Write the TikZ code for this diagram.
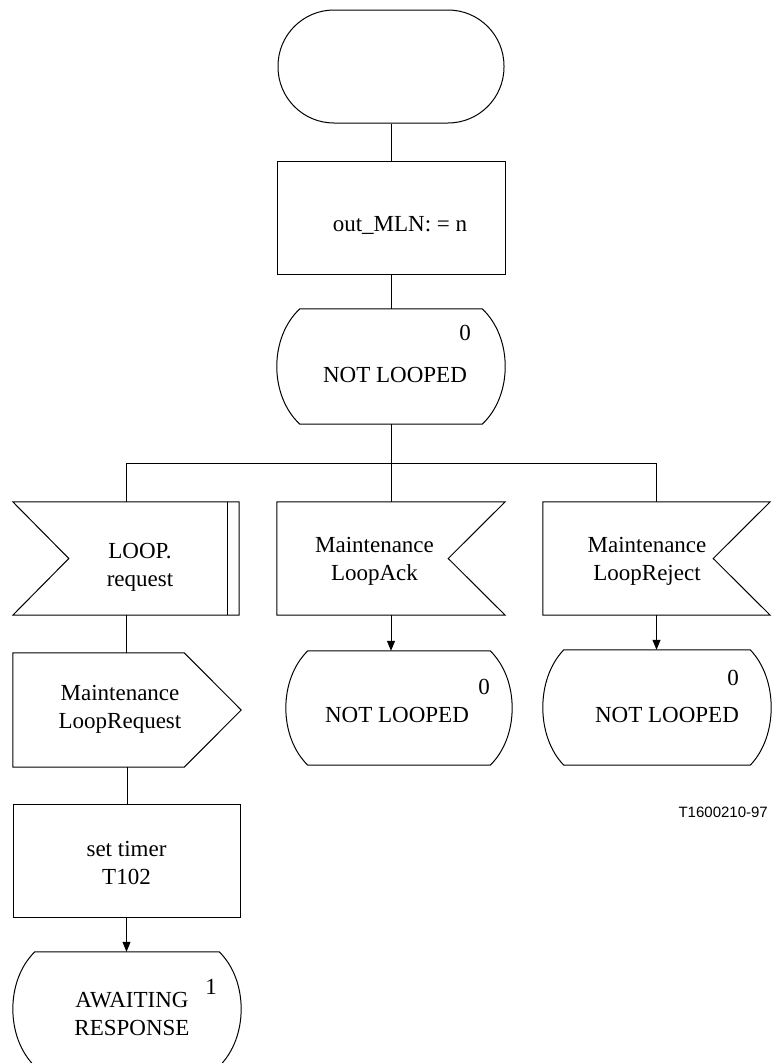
\documentclass[tikz,border=0pt]{standalone}
\usepackage{fontspec}
\setmainfont{Liberation Serif}
\newfontfamily\labelsans{Liberation Sans}
\usetikzlibrary{arrows.meta,calc}

\tikzset{
  ln/.style={line width=1pt, black},
  arr/.style={ln, -{Triangle[length=10pt,width=8pt]}},
  txt/.style={font=\fontsize{23}{28}\selectfont, align=center, inner sep=0pt},
  num/.style={font=\fontsize{23}{28}\selectfont, inner sep=0pt},
  shapebox/.style={draw=none, inner sep=0pt, minimum width=228pt, minimum height=114pt},
}

% state symbol: flat top/bottom, bulging sides
\newcommand\stateoutline[3]{%
  \draw[ln] ([xshift=#2]#1.north west) -- ([xshift=-#2]#1.north east)
    .. controls ([xshift=#3]$(#1.north east)!0.25!(#1.south east)$)
       and ([xshift=#3]$(#1.north east)!0.75!(#1.south east)$)
    .. ([xshift=-#2]#1.south east) -- ([xshift=#2]#1.south west)
    .. controls ([xshift=-#3]$(#1.north west)!0.75!(#1.south west)$)
       and ([xshift=-#3]$(#1.north west)!0.25!(#1.south west)$)
    .. cycle;}
% input symbol, notch on the right
\newcommand\inputright[2]{%
  \draw[ln] (#1.north west) -- (#1.north east) -- ([xshift=-#2]#1.east)
    -- (#1.south east) -- (#1.south west) -- cycle;}
% input symbol, notch on the left, double right edge
\newcommand\inputleft[2]{%
  \draw[ln] (#1.north west) -- (#1.north east) -- (#1.south east)
    -- (#1.south west) -- ([xshift=#2]#1.west) -- cycle;
  \draw[ln] ([xshift=-12pt]#1.north east) -- ([xshift=-12pt]#1.south east);}
% output symbol, point on the right
\newcommand\outputright[2]{%
  \draw[ln] (#1.north west) -- ([xshift=-#2]#1.north east) -- (#1.east)
    -- ([xshift=-#2]#1.south east) -- (#1.south west) -- cycle;}

\begin{document}
\begin{tikzpicture}[x=1pt, y=-1pt]
\useasboundingbox (0,0) rectangle (773,1063);

% start
\node (start) [draw, ln, rounded corners=56pt, minimum width=226pt, minimum height=113pt, inner sep=0pt] at (391,66.5) {};

% task
\node (proc) [draw, ln, minimum width=228pt, minimum height=113pt, inner sep=0pt,
  label={[txt, xshift=9pt, yshift=-7.5pt]center:{out\_MLN: = n}}] at (391,217.5) {};

% state NOT LOOPED
\node (s0) [shapebox, minimum height=115pt,
  label={[num, xshift=74pt, yshift=33.5pt]center:0},
  label={[txt, xshift=4pt, yshift=-8.5pt]center:NOT LOOPED}] at (391,366.5) {};
\stateoutline{s0}{23pt}{7.7pt}

\coordinate (j) at (391,463);

% inputs
\node (inL) [shapebox, minimum width=226pt, minimum height=113pt,
  label={[txt, xshift=14pt, yshift=-8.5pt]center:{LOOP.\\request}}] at (126,558.5) {};
\inputleft{inL}{56pt}

\node (inM) [shapebox, minimum height=113pt,
  label={[txt, xshift=-16.5pt, yshift=-2.5pt]center:{Maintenance\\LoopAck}}] at (391,558.5) {};
\inputright{inM}{57pt}

\node (inR) [shapebox, minimum width=227pt, minimum height=113pt,
  label={[txt, xshift=-9.5pt, yshift=-2.5pt]center:{Maintenance\\LoopReject}}] at (656.5,558.5) {};
\inputright{inR}{57pt}

% output
\node (out1) [shapebox, minimum height=114pt,
  label={[txt, xshift=-7pt, yshift=1pt]center:{Maintenance\\LoopRequest}}] at (127,710) {};
\outputright{out1}{57pt}

% timer task
\node (timer) [draw, ln, minimum width=227pt, minimum height=113pt, inner sep=0pt,
  label={[txt, yshift=-2.5pt]center:{set timer\\T102}}] at (126.5,860.5) {};

% states below
\node (stM) [shapebox, minimum width=226pt,
  label={[num, xshift=85pt, yshift=21pt]center:0},
  label={[txt, xshift=-2pt, yshift=-7pt]center:NOT LOOPED}] at (399,708) {};
\stateoutline{stM}{22pt}{7.3pt}

\node (stR) [shapebox, minimum height=115pt,
  label={[num, xshift=76pt, yshift=29.5pt]center:0},
  label={[txt, xshift=10pt, yshift=-7.5pt]center:NOT LOOPED}] at (657,707.5) {};
\stateoutline{stR}{21pt}{7pt}

\node (await) [shapebox,
  label={[num, xshift=84pt, yshift=22pt]center:1},
  label={[txt, xshift=5pt, yshift=-5pt]center:{AWAITING\\RESPONSE}}] at (127,1009) {};
\stateoutline{await}{22pt}{7.3pt}

% figure tag
\node (tag) [font=\labelsans\fontsize{15}{18}\selectfont, anchor=east, inner sep=0pt] at (768,812) {T1600210-97};

% connectors
\draw[ln] (start.south) -- (proc.north);
\draw[ln] (proc.south) -- (s0.north);
\draw[ln] (s0.south) -- (j);
\draw[ln] (j) -| (inL.north);
\draw[ln] (j) -| (inR.north);
\draw[ln] (j) -- (inM.north);
\draw[ln] (inL.south) -- (inL.south |- out1.north);
\draw[ln] (out1.south) -- (out1.south |- timer.north);
\draw[arr] (timer.south) -- (timer.south |- await.north);
\draw[arr] (inM.south) -- (inM.south |- stM.north);
\draw[arr] (inR.south) -- (inR.south |- stR.north);
\end{tikzpicture}
\end{document}
